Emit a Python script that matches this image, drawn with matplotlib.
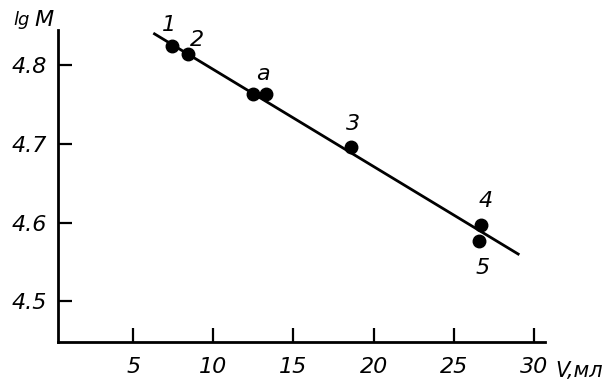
import numpy as np
import matplotlib.pyplot as plt

# 数据点 (V, lgM)
v_points = [7.4, 8.4, 12.5, 13.3, 18.6, 26.7, 26.6]
lgm_points = [4.825, 4.814, 4.764, 4.763, 4.696, 4.597, 4.576]

# 拟合直线端点
line_v = [6.25, 29.1]
line_lgm = [4.841, 4.559]

# 点标注
labels = ['1', '2', 'a', '3', '4', '5']
label_v = [7.2, 9.0, 13.1, 18.7, 27.0, 26.8]
label_lgm = [4.851, 4.832, 4.789, 4.726, 4.627, 4.542]

x_ticks = [5, 10, 15, 20, 25, 30]
y_ticks = [4.5, 4.6, 4.7, 4.8]

W, H = 605, 380
fig = plt.figure(figsize=(W / 100, H / 100), dpi=100)
ax = fig.add_axes([58 / W, (H - 342) / H, (545 - 58) / W, (342 - 30) / H])

ax.plot(line_v, line_lgm, color='black', lw=2.0, solid_capstyle='butt')
ax.plot(v_points, lgm_points, 'o', color='black', ms=9)

for t, x, y in zip(labels, label_v, label_lgm):
    ax.text(x, y, t, fontsize=16, style='italic', ha='center', va='center')

ax.set_xlim(0.3, 30.7)
ax.set_ylim(4.448, 4.845)
ax.set_xticks(x_ticks)
ax.set_yticks(y_ticks)
ax.set_xticklabels([str(v) for v in x_ticks], fontsize=16, style='italic')
ax.set_yticklabels([f'{v:.1f}' for v in y_ticks], fontsize=16, style='italic')
ax.tick_params(direction='in', length=10, width=1.6, pad=8)
ax.tick_params(axis='x', pad=11)

for s in ['top', 'right']:
    ax.spines[s].set_visible(False)
for s in ['left', 'bottom']:
    ax.spines[s].set_linewidth(2.0)

fig.text(22 / W, 1 - 20 / H, 'lg', fontsize=13, style='italic', ha='center', va='center')
fig.text(44 / W, 1 - 20 / H, 'M', fontsize=16, style='italic', ha='center', va='center')
fig.text(555 / W, 1 - 371 / H, 'V,мл', fontsize=15, style='italic', ha='left', va='center')

fig.savefig('out.png', dpi=100)
